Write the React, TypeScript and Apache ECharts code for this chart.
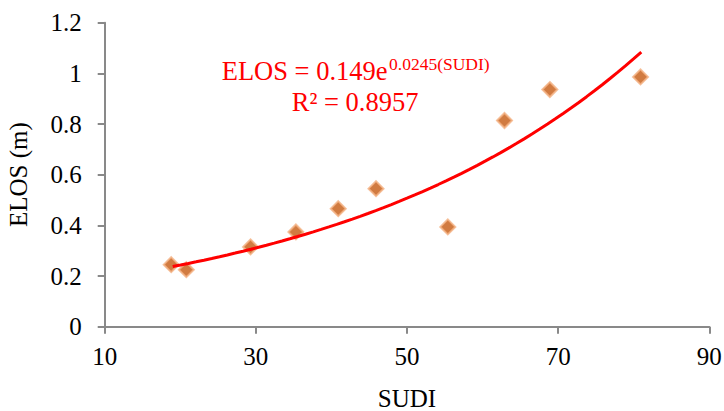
import React, { useEffect, useRef } from "react";
import * as echarts from "echarts";

const sudi = [18.8, 20.8, 29.3, 35.3, 40.9, 45.9, 55.4, 62.9, 68.9, 80.9];
const elos = [0.245, 0.225, 0.315, 0.374, 0.466, 0.545, 0.394, 0.814, 0.936, 0.986];
const xTicks = [10, 30, 50, 70, 90];
const yTicks = [0, 0.2, 0.4, 0.6, 0.8, 1, 1.2];
// exponential trendline shown in the chart: ELOS = 0.149 e^(0.0245 SUDI)
const trendA = 0.149;
const trendB = 0.0245;
const trendFrom = 19;
const trendTo = 81;
const eqMain = "ELOS = 0.149e";
const eqSup = "0.0245(SUDI)";
const eqR2 = "R² = 0.8957";

const FONT = "'Liberation Serif', 'Times New Roman', serif";

export default function App() {
  const ref = useRef<HTMLDivElement>(null);
  useEffect(() => {
    if (!ref.current) return;
    const chart = echarts.init(ref.current, undefined, { renderer: "svg" });
    const trend: number[][] = [];
    const steps = 60;
    for (let i = 0; i <= steps; i++) {
      const x = trendFrom + ((trendTo - trendFrom) * i) / steps;
      trend.push([x, trendA * Math.exp(trendB * x)]);
    }
    const grid = {
      left: 104.7,
      right: 14.7,
      top: 22.7,
      bottom: 84.3,
      containLabel: false,
      outerBoundsMode: "none",
    };
    chart.setOption({
      animation: false,
      backgroundColor: "#ffffff",
      grid,
      xAxis: {
        type: "value",
        min: xTicks[0],
        max: xTicks[xTicks.length - 1],
        interval: 20,
        name: "SUDI",
        nameLocation: "middle",
        nameGap: 59,
        nameTextStyle: { fontFamily: FONT, fontSize: 25, color: "#000" },
        axisLine: { onZero: false, lineStyle: { color: "#898989", width: 2 } },
        axisTick: { show: true, length: 7, lineStyle: { color: "#898989", width: 2 } },
        axisLabel: { fontFamily: FONT, fontSize: 25, color: "#000", margin: 17 },
        splitLine: { show: false },
      },
      yAxis: {
        type: "value",
        min: yTicks[0],
        max: yTicks[yTicks.length - 1],
        interval: 0.2,
        name: "ELOS (m)",
        nameLocation: "middle",
        nameGap: 74,
        nameRotate: 90,
        nameTextStyle: { fontFamily: FONT, fontSize: 25, color: "#000" },
        axisLine: { show: true, onZero: false, lineStyle: { color: "#898989", width: 2 } },
        axisTick: { show: true, length: 7, lineStyle: { color: "#898989", width: 2 } },
        axisLabel: {
          fontFamily: FONT,
          fontSize: 25,
          color: "#000",
          margin: 23,
          formatter: (v: number) => String(Math.round(v * 10) / 10),
        },
        splitLine: { show: false },
      },
      series: [
        {
          type: "line",
          data: trend,
          showSymbol: false,
          smooth: false,
          lineStyle: { color: "#FF0000", width: 3 },
          z: 3,
        },
        {
          type: "scatter",
          data: sudi.map((x, i) => [x, elos[i]]),
          symbol: "diamond",
          symbolSize: 15,
          itemStyle: { color: "#C55A11", borderColor: "#F4B183", borderWidth: 2 },
          z: 2,
        },
      ],
      graphic: [
        {
          type: "text",
          x: 221.7,
          y: 71,
          style: {
            text: eqMain,
            fontFamily: FONT,
            fontSize: 26.5,
            fill: "#FF0000",
            align: "left",
            verticalAlign: "middle",
          },
        },
        {
          type: "text",
          x: 389,
          y: 64,
          style: {
            text: eqSup,
            fontFamily: FONT,
            fontSize: 17.5,
            fill: "#FF0000",
            align: "left",
            verticalAlign: "middle",
          },
        },
        {
          type: "text",
          x: 291.7,
          y: 101.5,
          style: {
            text: eqR2,
            fontFamily: FONT,
            fontSize: 26.5,
            fill: "#FF0000",
            align: "left",
            verticalAlign: "middle",
          },
        },
      ],
    });
    return () => chart.dispose();
  }, []);
  return <div ref={ref} style={{ width: 724, height: 411, position: "absolute", left: 0, top: 0 }} />;
}
